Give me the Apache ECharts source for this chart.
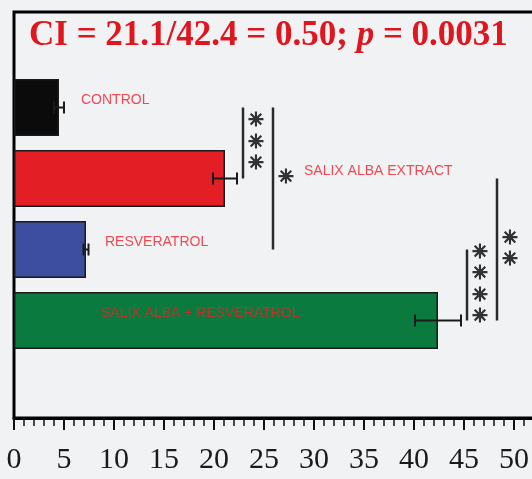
<!DOCTYPE html>
<html>
<head>
<meta charset="utf-8">
<script src="https://cdn.jsdelivr.net/npm/echarts@6/dist/echarts.min.js"></script>
<style>
  html, body { margin: 0; padding: 0; background: #f1f2f4; overflow: hidden; }
  /* the frame runs on past the right edge of the window */
  #chart { width: 564px; height: 479px; }
</style>
</head>
<body>
<div id="chart"></div>
<script>
// Treatment groups, top to bottom
const categories = ['CONTROL', 'SALIX ALBA EXTRACT', 'RESVERATROL', 'SALIX ALBA + RESVERATROL'];
// Group means and error (SEM)
const means = [4.5, 21.1, 7.2, 42.4];
const errors = [0.5, 1.2, 0.25, 2.3];
// Value axis ticks
const xMin = 0, xMax = 55, xStep = 5;
// Pairwise comparisons: [group A, group B, stars, bracket tier]
const comparisons = [
  [0, 1, '***', 0],
  [0, 2, '*', 1],
  [2, 3, '****', 0],
  [1, 3, '**', 1]
];
const pValue = '0.0031';

// Styling
const barColors = ['#0b0b0b', '#e31e25', '#3d4ea0', '#0b7a3e'];
const nameColors = ['#ef4a54', '#ef4a54', '#ef4a54', '#bd3229'];
const nameAt = [6.7, 29.0, 9.1, 8.7];   // where each group name starts, in axis units
const bracketGap = 0.6, tierStep = 3;

const ci = (means[1] / means[3]).toFixed(2);

const chart = echarts.init(document.getElementById('chart'));

const frameX = { min: xMin, max: xMax, interval: xStep };

chart.setOption({
  backgroundColor: '#f1f2f4',
  animation: false,
  grid: [
    // outer frame with the value axis
    { left: 14, right: 0, top: 12, bottom: 61, show: true, borderColor: '#000', borderWidth: 3, backgroundColor: 'transparent' },
    // band that holds the four bars
    { left: 14, right: 0, top: 72, bottom: 123 }
  ],
  xAxis: [
    {
      gridIndex: 0, type: 'value', ...frameX,
      axisLine: { show: true, lineStyle: { color: '#000', width: 3 } },
      axisTick: { show: true, length: 12, lineStyle: { color: '#111', width: 2 } },
      minorTick: { show: true, splitNumber: 5, length: 8, lineStyle: { color: '#111', width: 1.5 } },
      splitLine: { show: false },
      axisLabel: {
        margin: 27, color: '#1a1a1a', fontFamily: 'Liberation Serif', fontSize: 30,
        showMaxLabel: false
      }
    },
    { gridIndex: 1, type: 'value', ...frameX, show: false }
  ],
  yAxis: [
    { gridIndex: 0, type: 'value', min: 0, max: 1, show: false },
    { gridIndex: 1, type: 'category', data: categories, inverse: true, show: false }
  ],
  graphic: [{
    type: 'text', left: 29, top: 18,
    style: {
      text: '{a|CI = ' + means[1] + '/' + means[3] + ' = ' + ci + '; }{i|p}{a| = ' + pValue + '}',
      rich: {
        a: { fontFamily: 'Liberation Serif', fontWeight: 'bold', fontSize: 35, fill: '#e0161e' },
        i: { fontFamily: 'Liberation Serif', fontWeight: 'bold', fontStyle: 'italic', fontSize: 35, fill: '#e0161e' }
      }
    }
  }],
  series: [
    {
      type: 'bar', xAxisIndex: 1, yAxisIndex: 1,
      barWidth: 57,
      data: means.map((v, i) => ({
        value: v,
        itemStyle: { color: barColors[i], borderColor: '#1a1a1a', borderWidth: 1.5 }
      }))
    },
    {
      // error bars
      type: 'custom', xAxisIndex: 1, yAxisIndex: 1, z: 5,
      data: means.map((m, i) => [i, m - errors[i], m + errors[i]]),
      renderItem: function (params, api) {
        const c = api.value(0);
        const lo = api.coord([api.value(1), c]);
        const hi = api.coord([api.value(2), c]);
        const h = 6;
        const st = { stroke: '#1a1a1a', lineWidth: 2 };
        return {
          type: 'group', children: [
            { type: 'line', shape: { x1: lo[0], y1: lo[1], x2: hi[0], y2: hi[1] }, style: st },
            { type: 'line', shape: { x1: lo[0], y1: lo[1] - h, x2: lo[0], y2: lo[1] + h }, style: st },
            { type: 'line', shape: { x1: hi[0], y1: hi[1] - h, x2: hi[0], y2: hi[1] + h }, style: st }
          ]
        };
      }
    },
    {
      // group names written on the plot
      type: 'custom', xAxisIndex: 1, yAxisIndex: 1, z: 6,
      data: categories.map((name, i) => [i, nameAt[i]]),
      renderItem: function (params, api) {
        const i = params.dataIndex;
        const p = api.coord([api.value(1), api.value(0)]);
        return {
          type: 'text', x: p[0], y: p[1] - 7,
          style: {
            text: categories[i], fill: nameColors[i],
            fontFamily: 'Liberation Sans', fontSize: 14,
            align: 'left', verticalAlign: 'middle'
          }
        };
      }
    },
    {
      // significance brackets
      type: 'custom', xAxisIndex: 1, yAxisIndex: 1, z: 6,
      data: comparisons.map(([a, b, stars, tier]) => {
        let top = -Infinity;
        for (let k = Math.min(a, b); k <= Math.max(a, b); k++) top = Math.max(top, means[k] + errors[k]);
        return [a, b, top + bracketGap + tier * tierStep];
      }),
      renderItem: function (params, api) {
        const stars = comparisons[params.dataIndex][2];
        const p1 = api.coord([api.value(2), api.value(0)]);
        const p2 = api.coord([api.value(2), api.value(1)]);
        const mid = (p1[1] + p2[1]) / 2;
        const n = stars.length, gap = 21.5;
        const children = [{
          type: 'line', shape: { x1: p1[0], y1: p1[1], x2: p2[0], y2: p2[1] },
          style: { stroke: '#2a2a2a', lineWidth: 2.5 }
        }];
        for (let k = 0; k < n; k++) {
          children.push({
            type: 'text', x: p1[0] + 13, y: mid + (k - (n - 1) / 2) * gap,
            style: {
              text: '\u2733', fill: '#333', stroke: '#333', lineWidth: 1.2,
              fontFamily: 'DejaVu Sans', fontSize: 19,
              align: 'center', verticalAlign: 'middle'
            }
          });
        }
        return { type: 'group', children };
      }
    }
  ]
});
</script>
</body>
</html>
